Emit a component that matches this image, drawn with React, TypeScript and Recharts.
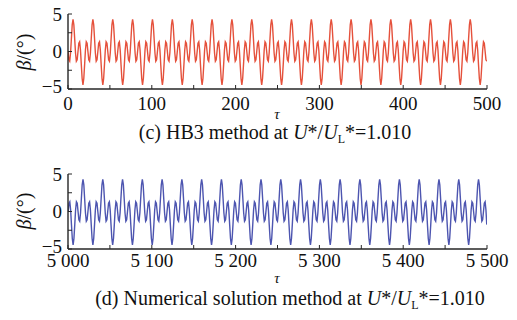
import React from "react";
import { LineChart, Line, XAxis, YAxis } from "recharts";

// one steady-state cycle of beta
// phase in degrees after a big positive peak, beta in degrees
const cyclePhase = [0, 15, 30, 45, 60, 75, 90, 105, 120, 135, 150, 165, 180, 195, 210, 225, 240, 255, 270, 285, 300, 315, 330, 345];
const cycleBeta = [4.3, 3.55, 1.7, -0.2, -1.3, -1.1, 0, 1.1, 1.3, 0.2, -1.75, -3.6, -4.45, -3.6, -1.75, 0.2, 1.3, 1.1, 0, -1.1, -1.3, -0.2, 1.7, 3.55];

// (c) HB3 method: first big peak and period
const hbRange = [0, 500];
const hbFirstPeak = 6;
const hbPeriod = 23.7;

// (d) numerical solution
const numRange = [5000, 5500];
const numFirstPeak = 5017.9;
const numPeriod = 23.6;

const yTicks = [-5, -2.5, 0, 2.5, 5];
const yLabels = [-5, 0, 5];
const hbTicks = [0, 50, 100, 150, 200, 250, 300, 350, 400, 450, 500];
const numTicks = [5000, 5050, 5100, 5150, 5200, 5250, 5300, 5350, 5400, 5450, 5500];

const buildSeries = (lo: number, hi: number, first: number, period: number) => {
  const rows: { tau: number; beta: number }[] = [];
  const kStart = Math.floor((lo - first) / period) - 1;
  const kEnd = Math.ceil((hi - first) / period) + 1;
  for (let k = kStart; k <= kEnd; k++) {
    cyclePhase.forEach((p, i) => {
      const tau = first + period * (k + p / 360);
      if (tau >= lo && tau <= hi) rows.push({ tau, beta: cycleBeta[i] });
    });
  }
  return rows;
};

const hbData = buildSeries(hbRange[0], hbRange[1], hbFirstPeak, hbPeriod);
const numData = buildSeries(numRange[0], numRange[1], numFirstPeak, numPeriod);

const FONT = '"Liberation Serif", "Times New Roman", serif';
const INK = "#262626";
const TICK_LEN = 4;

const fmtNum = (v: number) =>
  v >= 1000 ? `${Math.floor(v / 1000)} ${String(v % 1000).padStart(3, "0")}` : String(v);

const BottomTick = (labelDy: number) => (props: any) => {
  const { x, y, payload } = props;
  const v = payload.value;
  const major = v % 100 === 0;
  return (
    <g>
      <line x1={x} x2={x} y1={y} y2={y - TICK_LEN} stroke={INK} strokeWidth={1} />
      {major && (
        <text x={x} y={y + labelDy} textAnchor="middle" fontFamily={FONT} fontSize={19} fill="#111">
          {fmtNum(v)}
        </text>
      )}
    </g>
  );
};

const TopTick = (props: any) => {
  const { x, y } = props;
  return <line x1={x} x2={x} y1={y} y2={y + TICK_LEN} stroke={INK} strokeWidth={1} />;
};

const LeftTick = (props: any) => {
  const { x, y, payload } = props;
  const v = payload.value;
  // the lowest label sits a little above its tick, as in the source figure
  const lift = v === -5 ? -3 : 0;
  return (
    <g>
      <line x1={x} x2={x + TICK_LEN} y1={y} y2={y} stroke={INK} strokeWidth={1} />
      {yLabels.includes(v) && (
        <text x={x - 6} y={y + lift} dy="0.35em" textAnchor="end" fontFamily={FONT} fontSize={19} fill="#111">
          {v < 0 ? `\u2212${-v}` : v}
        </text>
      )}
    </g>
  );
};

const RightTick = (props: any) => {
  const { x, y } = props;
  return <line x1={x} x2={x - TICK_LEN} y1={y} y2={y} stroke={INK} strokeWidth={1} />;
};

const Panel = ({
  data,
  domain,
  ticks,
  color,
  labelDy,
}: {
  data: { tau: number; beta: number }[];
  domain: number[];
  ticks: number[];
  color: string;
  labelDy: number;
}) => (
  <LineChart width={517} height={160} data={data} margin={{ top: 14, right: 30, bottom: 0, left: 8 }}>
    <XAxis
      dataKey="tau"
      type="number"
      domain={domain}
      ticks={ticks}
      interval={0}
      allowDataOverflow
      height={71}
      tickSize={0}
      tickMargin={0}
      tickLine={false}
      axisLine={{ stroke: INK, strokeWidth: 1.4 }}
      tick={BottomTick(labelDy)}
    />
    <XAxis
      xAxisId="t"
      orientation="top"
      type="number"
      domain={domain}
      ticks={ticks}
      interval={0}
      allowDataOverflow
      height={0}
      tickSize={0}
      tickMargin={0}
      tickLine={false}
      axisLine={{ stroke: INK, strokeWidth: 1.4 }}
      tick={TopTick}
    />
    <YAxis
      type="number"
      domain={[-5, 5]}
      ticks={yTicks}
      interval={0}
      allowDataOverflow
      width={60}
      tickSize={0}
      tickMargin={0}
      tickLine={false}
      axisLine={{ stroke: INK, strokeWidth: 1.4 }}
      tick={LeftTick}
    />
    <YAxis
      yAxisId="r"
      orientation="right"
      type="number"
      domain={[-5, 5]}
      ticks={yTicks}
      interval={0}
      allowDataOverflow
      width={0}
      tickSize={0}
      tickMargin={0}
      tickLine={false}
      axisLine={{ stroke: INK, strokeWidth: 1.4 }}
      tick={RightTick}
    />
    <Line
      dataKey="beta"
      type="linear"
      stroke={color}
      strokeWidth={1.4}
      dot={false}
      isAnimationActive={false}
    />
  </LineChart>
);

const Caption = ({ x, y, prefix }: { x: number; y: number; prefix: string }) => (
  <text x={x} y={y} textAnchor="middle" fontFamily={FONT} fontSize={20} fill="#111">
    {prefix}
    <tspan fontStyle="italic">U</tspan>
    {"*/"}
    <tspan fontStyle="italic">U</tspan>
    <tspan fontSize={12} dy={4}>L</tspan>
    <tspan dy={-4}>*=1.010</tspan>
  </text>
);

const YLabel = ({ x, y }: { x: number; y: number }) => (
  <text
    x={x}
    y={y}
    transform={`rotate(-90 ${x} ${y})`}
    textAnchor="middle"
    dy="0.35em"
    fontFamily={FONT}
    fontSize={20}
    fill="#111"
  >
    <tspan fontStyle="italic">β</tspan>/(°)
  </text>
);

export default function App() {
  return (
    <div style={{ position: "absolute", left: 0, top: 0, width: 517, height: 320, background: "#fff", overflow: "hidden" }}>
      <div style={{ position: "absolute", left: 0, top: 0 }}>
        <Panel data={hbData} domain={hbRange} ticks={hbTicks} color="#e5513c" labelDy={21} />
      </div>
      <div style={{ position: "absolute", left: 0, top: 160 }}>
        <Panel data={numData} domain={numRange} ticks={numTicks} color="#4d55b0" labelDy={18} />
      </div>
      <svg width={517} height={320} style={{ position: "absolute", left: 0, top: 0, pointerEvents: "none" }}>
        <YLabel x={24} y={52} />
        <YLabel x={24} y={211} />
        <text x={277} y={119} textAnchor="middle" fontFamily={FONT} fontStyle="italic" fontSize={15} fill="#111">τ</text>
        <text x={277} y={283} textAnchor="middle" fontFamily={FONT} fontStyle="italic" fontSize={15} fill="#111">τ</text>
        <Caption x={275} y={139} prefix="(c) HB3 method at " />
        <Caption x={290} y={305} prefix="(d) Numerical solution method at " />
      </svg>
    </div>
  );
}
